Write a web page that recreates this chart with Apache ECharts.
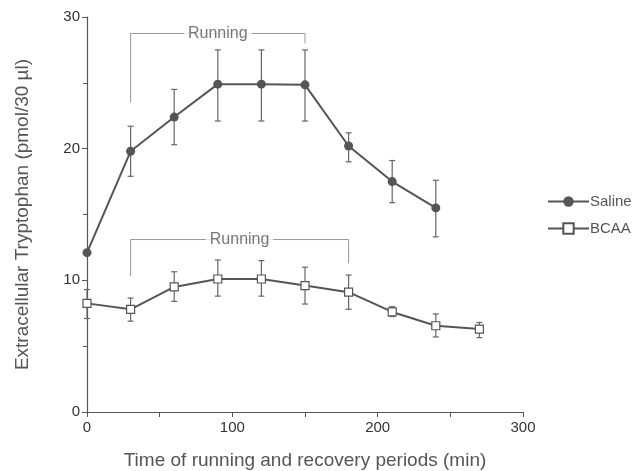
<!DOCTYPE html>
<html>
<head>
<meta charset="utf-8">
<script src="https://cdn.jsdelivr.net/npm/echarts@6/dist/echarts.min.js"></script>
<style>
  html, body { margin: 0; padding: 0; background: #fff; }
  #chart { width: 632px; height: 471px; }
</style>
</head>
<body>
<div id="chart"></div>
<script>
// time points (min)
var salineTime = [0, 30, 60, 90, 120, 150, 180, 210, 240];
var salineMean = [12.1, 19.8, 22.4, 24.9, 24.9, 24.85, 20.2, 17.5, 15.5];
var salineLow  = [12.1, 17.9, 20.3, 22.1, 22.1, 22.1, 19.0, 15.9, 13.3];
var salineHigh = [12.1, 21.7, 24.5, 27.5, 27.5, 27.5, 21.2, 19.1, 17.6];

var bcaaTime = [0, 30, 60, 90, 120, 150, 180, 210, 240, 270];
var bcaaMean = [8.25, 7.8, 9.5, 10.1, 10.1, 9.6, 9.1, 7.6, 6.55, 6.3];
var bcaaLow  = [7.1, 6.9, 8.4, 8.8, 8.8, 8.2, 7.8, 7.25, 5.7, 5.65];
var bcaaHigh = [9.3, 8.65, 10.65, 11.55, 11.5, 11.0, 10.4, 8.0, 7.45, 6.8];

// "Running" brackets: [x, y] in data units
var salineRunning = [[30, 23.5], [30, 28.75], [150, 28.75], [150, 28.0]];
var bcaaRunning = [[30, 10.3], [30, 13.1], [180, 13.1], [180, 11.3]];
var runningLabels = [[90, 28.75], [105, 13.1]];

var lineColor = "#555";

function zip(xs, ys) {
  return xs.map(function (x, i) { return [x, ys[i]]; });
}
function zip3(xs, lo, hi) {
  return xs.map(function (x, i) { return [x, lo[i], hi[i]]; });
}

function errorBar(params, api) {
  var x = api.value(0);
  var lo = api.coord([x, api.value(1)]);
  var hi = api.coord([x, api.value(2)]);
  var half = 3;
  var style = { stroke: "#666", lineWidth: 1.2 };
  return {
    type: "group",
    children: [
      { type: "line", shape: { x1: lo[0], y1: lo[1], x2: hi[0], y2: hi[1] }, style: style },
      { type: "line", shape: { x1: lo[0] - half, y1: lo[1], x2: lo[0] + half, y2: lo[1] }, style: style },
      { type: "line", shape: { x1: hi[0] - half, y1: hi[1], x2: hi[0] + half, y2: hi[1] }, style: style }
    ]
  };
}

var chart = echarts.init(document.getElementById("chart"));
chart.setOption({
  animation: false,
  textStyle: { fontFamily: "Liberation Sans, Arial, sans-serif" },
  grid: { left: 87, right: 109, top: 17, bottom: 59, outerBoundsMode: "none" },
  legend: {
    orient: "vertical",
    left: 542,
    top: 189,
    itemWidth: 41,
    itemHeight: 13,
    itemGap: 12,
    textStyle: { fontSize: 15, color: "#555", padding: [0, 0, 0, -4] },
    data: ["Saline", "BCAA"]
  },
  xAxis: {
    type: "value",
    min: 0,
    max: 300,
    interval: 100,
    name: "Time of running and recovery periods (min)",
    nameLocation: "middle",
    nameGap: 39,
    nameTextStyle: { fontSize: 19, color: "#555" },
    axisLine: { lineStyle: { color: lineColor, width: 1.2 } },
    axisTick: { length: 5, lineStyle: { color: lineColor } },
    minorTick: { show: true, splitNumber: 2, length: 5, lineStyle: { color: lineColor } },
    axisLabel: { fontSize: 15, color: "#333", margin: 8 },
    splitLine: { show: false }
  },
  yAxis: {
    type: "value",
    min: 0,
    max: 30,
    interval: 10,
    name: "Extracellular Tryptophan (pmol/30 µl)",
    nameLocation: "middle",
    nameGap: 55,
    nameTextStyle: { fontSize: 19, color: "#555" },
    axisLine: { show: true, lineStyle: { color: lineColor, width: 1.2 } },
    axisTick: { show: true, length: 5, lineStyle: { color: lineColor } },
    minorTick: { show: true, splitNumber: 2, length: 4, lineStyle: { color: lineColor } },
    axisLabel: { fontSize: 15, color: "#333", margin: 7 },
    splitLine: { show: false }
  },
  series: [
    {
      name: "salineRunning",
      type: "line",
      data: salineRunning,
      symbol: "none",
      silent: true,
      lineStyle: { color: "#999", width: 1 },
      z: 1
    },
    {
      name: "bcaaRunning",
      type: "line",
      data: bcaaRunning,
      symbol: "none",
      silent: true,
      lineStyle: { color: "#999", width: 1 },
      z: 1
    },
    {
      name: "runningText",
      type: "scatter",
      data: runningLabels,
      symbolSize: 0,
      silent: true,
      z: 2,
      label: {
        show: true,
        position: "inside",
        formatter: "Running",
        fontSize: 16,
        color: "#555",
        backgroundColor: "#fff",
        padding: [1, 4]
      }
    },
    {
      name: "salineErr",
      type: "custom",
      renderItem: errorBar,
      data: zip3(salineTime, salineLow, salineHigh),
      silent: true,
      z: 3
    },
    {
      name: "bcaaErr",
      type: "custom",
      renderItem: errorBar,
      data: zip3(bcaaTime, bcaaLow, bcaaHigh),
      silent: true,
      z: 3
    },
    {
      name: "Saline",
      type: "line",
      data: zip(salineTime, salineMean),
      symbol: "circle",
      symbolSize: 9,
      itemStyle: { color: "#555" },
      lineStyle: { color: lineColor, width: 2 },
      z: 4
    },
    {
      name: "BCAA",
      type: "line",
      data: zip(bcaaTime, bcaaMean),
      symbol: "rect",
      symbolSize: 8,
      itemStyle: { color: "#fff", borderColor: "#555", borderWidth: 1.2 },
      lineStyle: { color: lineColor, width: 2 },
      z: 4
    }
  ]
});
</script>
</body>
</html>
